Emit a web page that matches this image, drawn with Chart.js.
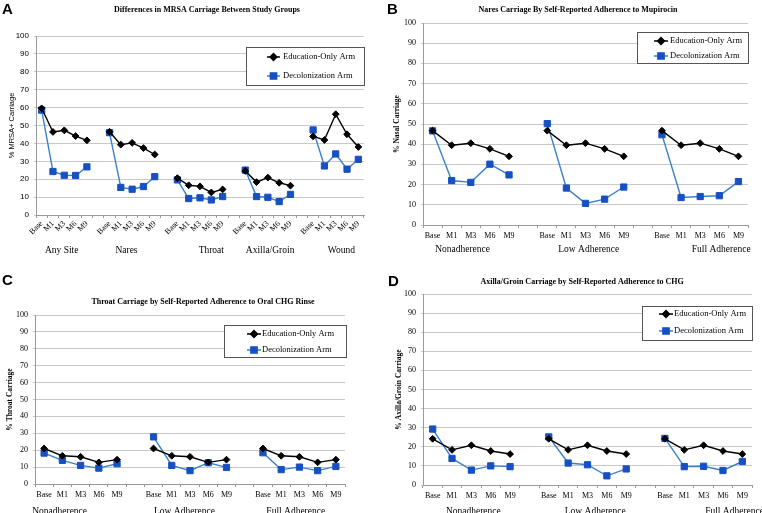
<!DOCTYPE html>
<html><head><meta charset="utf-8">
<script src="https://cdn.jsdelivr.net/npm/chart.js@4.4.0/dist/chart.umd.min.js"></script>
<style>
html,body{margin:0;padding:0;background:#fff;width:762px;height:513px;overflow:hidden;}
.panel{position:absolute;}
canvas{display:block;}
</style></head><body>
<div class="panel" style="left:0;top:0;"><canvas id="cA" width="381" height="256"></canvas></div>
<div class="panel" style="left:381px;top:0;"><canvas id="cB" width="381" height="256"></canvas></div>
<div class="panel" style="left:0;top:256px;"><canvas id="cC" width="381" height="257"></canvas></div>
<div class="panel" style="left:381px;top:256px;"><canvas id="cD" width="381" height="257"></canvas></div>
<script>
// ---------- DATA ----------
const timepoints = ['Base', 'M1', 'M3', 'M6', 'M9'];
const seriesNames = ['Education-Only Arm', 'Decolonization Arm'];

// Panel A
const aGroups = ['Any Site', 'Nares', 'Throat', 'Axilla/Groin', 'Wound'];
const aEducation = [
  [59.6, 46.4, 47.3, 44.1, 41.7],
  [46.5, 39.3, 40.3, 37.4, 33.8],
  [20.6, 16.6, 16.0, 12.6, 14.3],
  [24.6, 18.4, 20.9, 18.0, 16.4],
  [43.9, 41.9, 56.3, 45.1, 38.0]
];
const aDecolonization = [
  [58.6, 24.3, 22.2, 22.1, 26.9],
  [46.0, 15.4, 14.4, 15.9, 21.4],
  [19.6, 9.2, 9.6, 8.4, 10.3],
  [25.1, 10.3, 9.9, 7.5, 11.5],
  [47.5, 27.4, 34.1, 25.6, 31.1]
];

// Panels B, C, D share adherence groups
const adherenceGroups = ['Nonadherence', 'Low Adherence', 'Full Adherence'];

// Panel B
const bEducation = [
  [46.7, 39.5, 40.5, 37.7, 34.0],
  [46.7, 39.5, 40.5, 37.7, 34.0],
  [46.7, 39.5, 40.5, 37.7, 34.0]
];
const bDecolonization = [
  [46.6, 22.0, 21.1, 30.1, 24.8],
  [50.2, 18.3, 10.7, 12.8, 18.8],
  [44.7, 13.6, 14.1, 14.5, 21.5]
];

// Panel C
const cEducation = [
  [21.0, 16.7, 16.1, 12.8, 14.4],
  [21.0, 16.7, 16.1, 12.8, 14.4],
  [21.0, 16.7, 16.1, 12.8, 14.4]
];
const cDecolonization = [
  [18.3, 14.0, 11.0, 9.4, 12.0],
  [27.9, 11.0, 7.9, 12.6, 9.8],
  [18.5, 8.5, 10.0, 7.9, 10.4]
];

// Panel D
const dEducation = [
  [24.2, 18.4, 20.8, 17.8, 16.2],
  [24.2, 18.4, 20.8, 17.8, 16.2],
  [24.2, 18.4, 20.8, 17.8, 16.2]
];
const dDecolonization = [
  [29.3, 13.9, 7.8, 10.0, 9.6],
  [25.2, 11.5, 10.6, 4.8, 8.4],
  [24.4, 9.6, 9.8, 7.6, 12.3]
];

const yTicks = [0, 10, 20, 30, 40, 50, 60, 70, 80, 90, 100];

// ---------- HELPERS ----------
function buildLabels(groups) {
  const out = [];
  groups.forEach((g, i) => { if (i > 0) out.push(''); out.push(...timepoints); });
  return out;
}
function buildSeries(rows) {
  const out = [];
  rows.forEach((r, i) => { if (i > 0) out.push(null); out.push(...r); });
  return out;
}

const SERIF = "'Liberation Serif', 'Times New Roman', serif";
const SANS = "'Liberation Sans', Arial, sans-serif";
const BLACK = '#000000';
const BLUE_LINE = '#3a80c9';
const BLUE_PT = '#1750c2';

const decor = {
  id: 'decor',
  afterDraw(chart, args, o) {
    const ctx = chart.ctx;
    ctx.save();
    // panel letter
    ctx.fillStyle = '#000';
    ctx.font = 'bold 15px ' + SANS;
    ctx.textAlign = 'left'; ctx.textBaseline = 'middle';
    ctx.fillText(o.letter, o.letterX, o.letterY);
    // title
    ctx.font = 'bold 8px ' + SERIF;
    ctx.textAlign = 'center';
    ctx.fillText(o.title, o.titleX, o.titleY);
    // group labels
    const xs = chart.scales.x;
    ctx.font = o.groupFont;
    ctx.textBaseline = 'alphabetic';
    o.groups.forEach((g, i) => {
      ctx.fillText(g, xs.getPixelForValue(o.groupIdx[i]), o.groupY);
    });
    // legend box
    const L = o.legend;
    ctx.fillStyle = '#fff';
    ctx.fillRect(L.x, L.y, L.w, L.h);
    ctx.strokeStyle = '#555'; ctx.lineWidth = 1;
    ctx.strokeRect(L.x + 0.5, L.y + 0.5, L.w, L.h);
    chart.data.datasets.forEach((ds, i) => {
      const yy = L.rows[i];
      ctx.strokeStyle = ds.borderColor; ctx.lineWidth = 1.5;
      ctx.beginPath(); ctx.moveTo(L.x0, yy); ctx.lineTo(L.x1, yy); ctx.stroke();
      ctx.fillStyle = ds.pointBackgroundColor; ctx.strokeStyle = ds.pointBorderColor;
      Chart.helpers.drawPoint(ctx, {pointStyle: ds.pointStyle, radius: ds.pointRadius, rotation: 0, borderWidth: 1}, (L.x0 + L.x1) / 2, yy);
      ctx.fillStyle = '#000';
      ctx.font = '8.5px ' + SERIF;
      ctx.textAlign = 'left'; ctx.textBaseline = 'middle';
      ctx.fillText(ds.label, L.tx, yy);
    });
    ctx.restore();
  }
};

function makeChart(id, groups, edu, dec, cfg) {
  const labels = buildLabels(groups);
  return new Chart(document.getElementById(id), {
    type: 'line',
    data: {
      labels: labels,
      datasets: [
        {label: seriesNames[0], data: buildSeries(edu), borderColor: BLACK, borderWidth: 1.4,
         pointStyle: 'rectRot', pointRadius: 3.4, pointBackgroundColor: BLACK, pointBorderColor: BLACK,
         pointBorderWidth: 1, spanGaps: false, tension: 0},
        {label: seriesNames[1], data: buildSeries(dec), borderColor: BLUE_LINE, borderWidth: 1.4,
         pointStyle: 'rect', pointRadius: 4.4, pointBackgroundColor: BLUE_PT, pointBorderColor: BLUE_PT,
         pointBorderWidth: 1, spanGaps: false, tension: 0}
      ]
    },
    options: {
      responsive: false, animation: false, devicePixelRatio: 1,
      layout: {padding: cfg.padding},
      plugins: {legend: {display: false}, title: {display: false}, tooltip: {enabled: false}, decor: cfg.decor},
      scales: {
        x: {
          type: 'category', offset: true,
          grid: {display: true, drawOnChartArea: false, offset: true, tickLength: 3, color: '#9a9a9a'},
          border: {display: true, color: '#9a9a9a'},
          ticks: {autoSkip: false, minRotation: cfg.rot, maxRotation: cfg.rot, padding: cfg.xPad,
                  color: '#000', font: {family: SERIF, size: 8}},
          afterFit: s => { s.height = cfg.xH; }
        },
        y: {
          min: 0, max: 100,
          afterBuildTicks: s => { s.ticks = yTicks.map(v => ({value: v})); },
          grid: {color: '#c8c8c8', drawTicks: true, tickLength: 2},
          border: {display: true, color: '#9a9a9a'},
          ticks: {padding: 5, color: '#000', font: {family: cfg.yFont, size: 8}},
          title: {display: true, text: cfg.yTitle, color: '#000', padding: {top: cfg.yTitlePad},
                  font: {family: cfg.yTitleFont, size: 7.5, weight: cfg.yTitleWeight}},
          afterFit: s => { s.width = cfg.yW; }
        }
      }
    },
    plugins: [decor]
  });
}

makeChart('cA', aGroups, aEducation, aDecolonization, {
  padding: {top: 36, right: 17, left: 0, bottom: 0},
  xH: 41, yW: 36, rot: 45, xPad: 1, yFont: SANS,
  yTitle: '% MRSA+ Carriage', yTitleFont: SANS, yTitleWeight: 'normal', yTitlePad: 7,
  decor: {
    letter: 'A', letterX: 2, letterY: 9.5,
    title: 'Differences in MRSA Carriage Between Study Groups', titleX: 207, titleY: 10,
    groups: aGroups, groupIdx: [1.77, 7.5, 15.0, 20.2, 26.5], groupY: 253, groupFont: '9.5px ' + SERIF,
    legend: {x: 246, y: 47, w: 118, h: 38, rows: [57, 76], x0: 267, x1: 280, tx: 283}
  }
});

makeChart('cB', adherenceGroups, bEducation, bDecolonization, {
  padding: {top: 23, right: 14, left: 0, bottom: 0},
  xH: 31, yW: 42, rot: 0, xPad: 3, yFont: SERIF,
  yTitle: '% Nasal Carriage', yTitleFont: SERIF, yTitleWeight: 'bold', yTitlePad: 12,
  decor: {
    letter: 'B', letterX: 6, letterY: 9.5,
    title: 'Nares Carriage By Self-Reported Adherence to Mupirocin', titleX: 197, titleY: 10,
    groups: adherenceGroups, groupIdx: [1.57, 8.17, 15.1], groupY: 252, groupFont: '9.5px ' + SERIF,
    legend: {x: 256, y: 32, w: 111, h: 31, rows: [41, 56], x0: 273, x1: 287, tx: 289}
  }
});

makeChart('cC', adherenceGroups, cEducation, cDecolonization, {
  padding: {top: 59, right: 36, left: 0, bottom: 0},
  xH: 29, yW: 35, rot: 0, xPad: 3, yFont: SERIF,
  yTitle: '% Throat Carriage', yTitleFont: SERIF, yTitleWeight: 'bold', yTitlePad: 6,
  decor: {
    letter: 'C', letterX: 2, letterY: 25,
    title: 'Throat Carriage by Self-Reported Adherence to Oral CHG Rinse', titleX: 203, titleY: 46,
    groups: adherenceGroups, groupIdx: [0.85, 7.7, 13.8], groupY: 258, groupFont: '9.5px ' + SERIF,
    legend: {x: 224, y: 69, w: 122, h: 32, rows: [78, 94], x0: 247, x1: 261, tx: 262}
  }
});

makeChart('cD', adherenceGroups, dEducation, dDecolonization, {
  padding: {top: 38, right: 10, left: 0, bottom: 0},
  xH: 28, yW: 42, rot: 0, xPad: 3, yFont: SERIF,
  yTitle: '% Axilla/Groin Carriage', yTitleFont: SERIF, yTitleWeight: 'bold', yTitlePad: 14,
  decor: {
    letter: 'D', letterX: 7, letterY: 26,
    title: 'Axilla/Groin Carriage by Self-Reported Adherence to CHG', titleX: 201, titleY: 26,
    groups: adherenceGroups, groupIdx: [2.1, 8.4, 15.6], groupY: 258, groupFont: '9.5px ' + SERIF,
    legend: {x: 261, y: 50, w: 110, h: 34, rows: [58, 75], x0: 278, x1: 292, tx: 293}
  }
});
</script>
</body></html>
